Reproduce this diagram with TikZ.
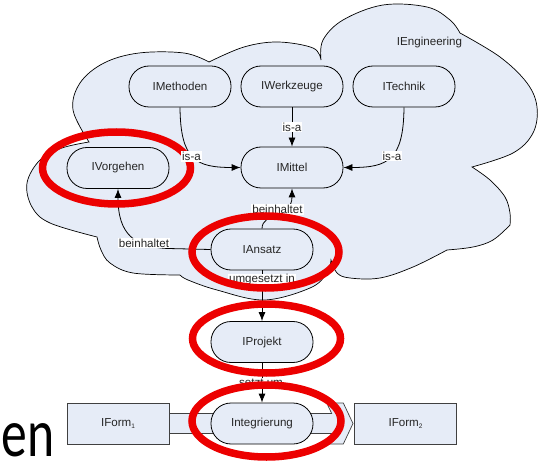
\documentclass[tikz,border=0pt]{standalone}
\usepackage{fontspec}
\setmainfont{Liberation Sans}
\newfontfamily\bigfont{Carlito}
\usetikzlibrary{arrows.meta}

\definecolor{cloudfill}{RGB}{230,236,247}
\definecolor{ringred}{RGB}{236,0,0}
\definecolor{inktext}{RGB}{38,38,38}

\begin{document}
\begin{tikzpicture}[x=1pt,y=-1pt,
  pill/.style={draw=black, line width=0.8pt, fill=cloudfill, rounded corners=20pt,
    minimum width=102pt, minimum height=41pt, inner sep=0pt,
    font=\fontsize{11.6}{14}\selectfont, text=inktext},
  formbox/.style={draw=black!75, line width=0.8pt, fill=cloudfill,
    minimum width=102pt, minimum height=41pt, inner sep=0pt,
    font=\fontsize{11.6}{14}\selectfont, text=inktext},
  rel/.style={draw=black, line width=0.8pt, -{Latex[length=9pt,width=7pt]}},
  rellabel/.style={fill=white, inner sep=1pt, font=\fontsize{11.6}{13}\selectfont, text=inktext},
  ring/.style={draw=ringred, line width=7.5pt},
]
\useasboundingbox (0,0) rectangle (543,462);

% the IEngineering cloud, one smooth lobe between each pair of notches
\draw[fill=cloudfill, draw=black, line width=0.7pt]
  plot[smooth, tension=0.6] coordinates {(89,142) (73,110) (80,83) (104,63) (139,53) (184,53) (209,62)}
  -- plot[smooth, tension=0.6] coordinates {(209,62) (244,47) (278,42) (313,48) (321,60)}
  -- plot[smooth, tension=0.6] coordinates {(321,60) (323,40) (343,20) (383,5) (427,7) (450,20) (460,33)}
  -- plot[smooth, tension=0.6] coordinates {(460,33) (500,57) (527,83) (537,107) (533,133) (513,153) (472,167)}
  -- plot[smooth, tension=0.6] coordinates {(472,167) (490,180) (505,197) (510,213) (510,225)}
  -- plot[smooth, tension=0.6] coordinates {(510,225) (493,240) (473,247) (447,250)}
  -- plot[smooth, tension=0.6] coordinates {(447,250) (413,267) (380,278) (350,278) (337,273) (331,260)}
  -- plot[smooth, tension=0.6] coordinates {(331,260) (327,273) (310,288) (264,300) (217,290) (188,280) (180,275)}
  -- plot[smooth, tension=0.6] coordinates {(180,275) (133,273) (110,263) (101,250) (97,237)}
  -- plot[smooth, tension=0.6] coordinates {(97,237) (50,223) (32,207) (27,183) (40,160) (62,148) (89,142)}
  -- cycle;
\node[font=\fontsize{11.6}{14}\selectfont, text=inktext] (eng) at (429.5,42.5) {IEngineering};

% block arrow from IForm1 to IForm2
\draw[fill=cloudfill, draw=black!75, line width=0.7pt]
  (160,413.5) -- (331.7,413.5) -- (326.7,403) -- (343.3,403) -- (353,423.5)
  -- (343.3,444) -- (326.7,444) -- (331.7,433.5) -- (160,433.5) -- cycle;

% nodes
\node[pill] (meth) at (180,86.5) {IMethoden};
\node[pill] (werk) at (292,86.5) {IWerkzeuge};
\node[pill] (tech) at (404,86.5) {ITechnik};
\node[pill] (mitt) at (292,167.5) {IMittel};
\node[pill] (vorg) at (118,168) {IVorgehen};
\node[pill] (ansa) at (262,249.5) {IAnsatz};
\node[pill] (proj) at (262,342) {IProjekt};
\node[formbox] (form1) at (118,423.5) {IForm\raisebox{-1.5pt}{\fontsize{6.5}{7}\selectfont 1}};
\node[formbox] (form2) at (405.5,423.5) {IForm\raisebox{-1.5pt}{\fontsize{6.5}{7}\selectfont 2}};
\node[pill] (integ) at (262,423.5) {Integrierung};

% relations
\draw[rel] (meth.south) .. controls (180.5,160) and (196,167.5) .. (mitt.west);
\draw[rel] (werk.south) -- (mitt.north);
\node[rellabel] (l2) at (292,127) {is-a};
\draw[rel] (tech.south) .. controls (403.5,160) and (388,167.5) .. (mitt.east);
\node[rellabel] (l3) at (392,156) {is-a};

\draw[rel] (ansa.north) .. controls (262,212) and (292,218) .. (mitt.south);
\node[rellabel] (l4) at (277.5,209.5) {beinhaltet};

\coordinate (bend) at (168,248.5);
\draw[rel] (ansa.west) -- (bend) .. controls (135,247) and (118,235) .. (vorg.south);
\node[rellabel] (l5) at (144,243) {beinhaltet};

\draw[rel] (ansa.south) -- (proj.north);
\node[rellabel] (l6) at (262,280) {umgesetzt in};

\draw[rel] (proj.south) -- (integ.north);
\node[rellabel] (l7) at (261,383) {setzt um};

% red highlight rings
\draw[ring] (116.5,168) ellipse [x radius=74pt, y radius=36pt];
\draw[ring] (265.5,252) ellipse [x radius=73.5pt, y radius=36pt];
\draw[ring] (266.5,338.5) ellipse [x radius=74pt, y radius=34.5pt];
\draw[ring] (266.5,421) ellipse [x radius=74.5pt, y radius=36pt];

% is-a label of IMethoden, lying over the ring
\node[rellabel] (l1) at (191.5,156.3) {is-a};

% large slide text at the lower left
\node[anchor=base west, inner sep=0pt] (en) at (1.5,456.5)
  {\scalebox{0.76}[1]{\bigfont\fontsize{68}{68}\selectfont en}};
\end{tikzpicture}
\end{document}
